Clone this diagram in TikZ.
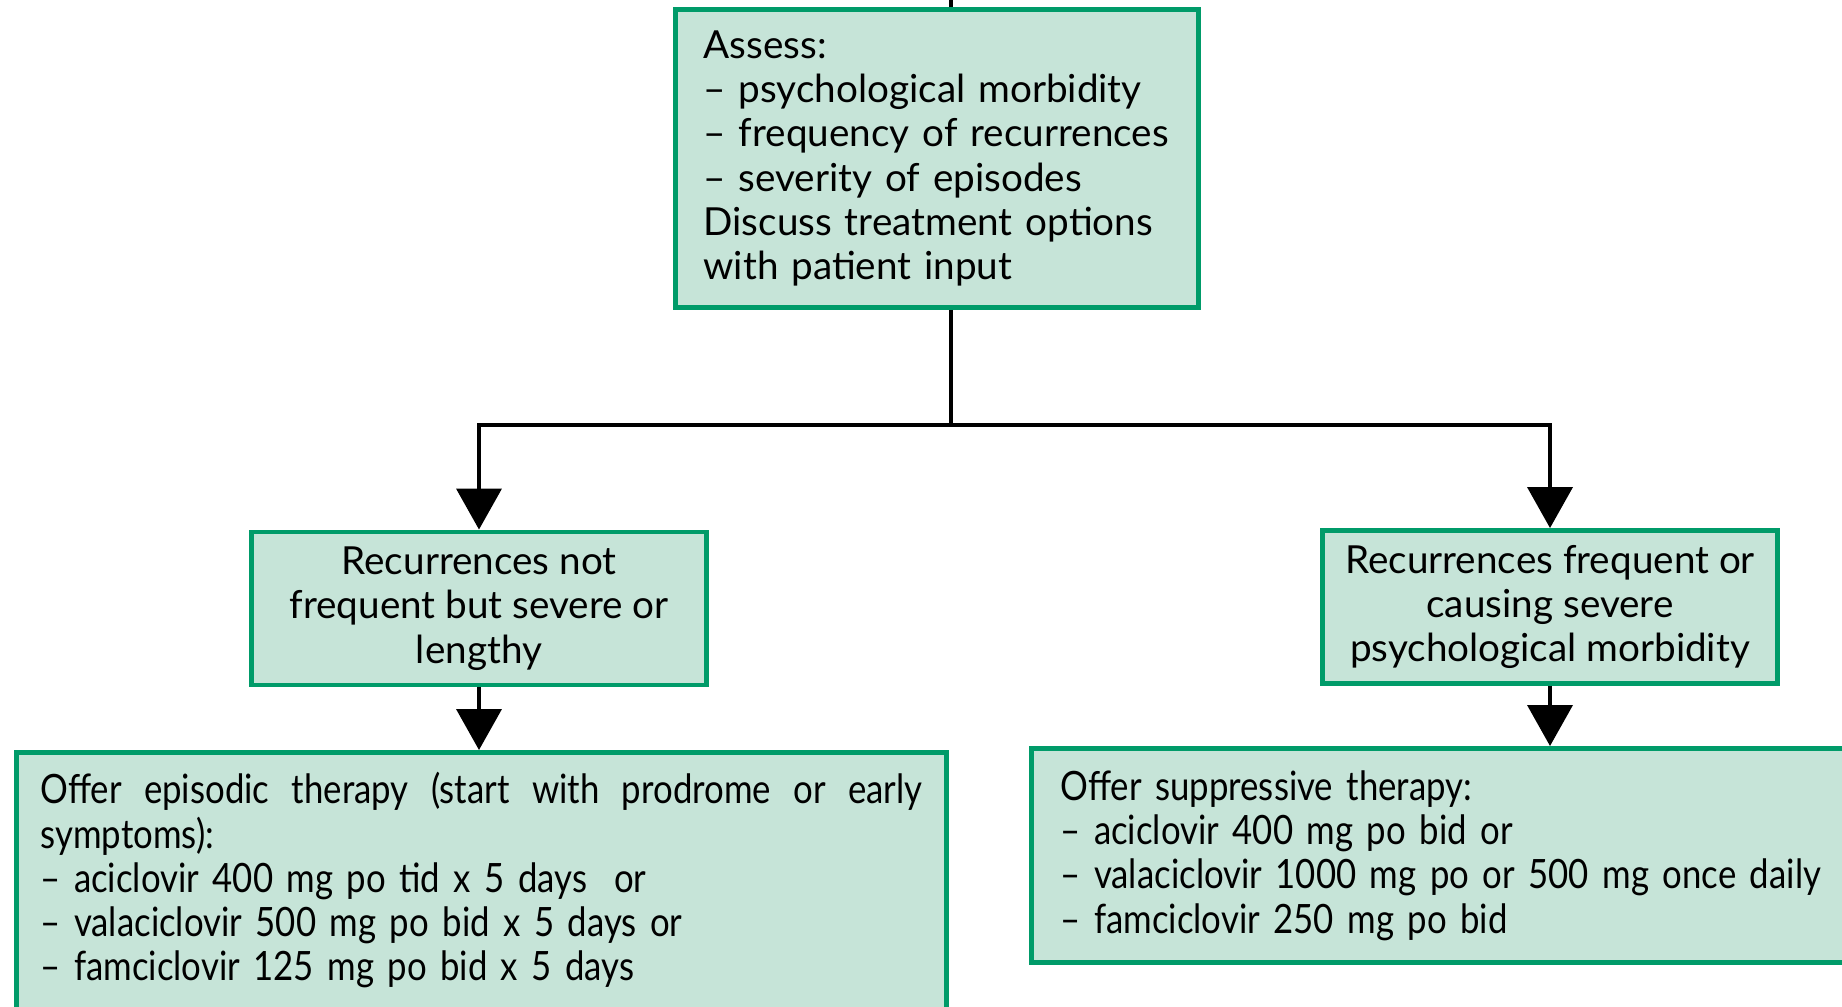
\documentclass[tikz,border=0pt]{standalone}
\usepackage{fontspec}
\setmainfont{Lato}
\newfontfamily\condfont[FakeStretch=0.86, Ligatures=TeX]{Lato}
\usetikzlibrary{arrows.meta, positioning, calc}
\definecolor{boxgreen}{RGB}{0,155,105}
\definecolor{boxfill}{RGB}{198,228,216}

\begin{document}
\begin{tikzpicture}[
    box/.style={draw=boxgreen, fill=boxfill, line width=1.4pt, font=\fontsize{11}{12.6}\selectfont},
    therapy/.style={box, font=\condfont\fontsize{11.5}{12.6}\selectfont, align=left},
    flow/.style={line width=1.1pt, -{Triangle[length=0.41cm, width=0.45cm]}},
    link/.style={line width=1.1pt}
]
    \useasboundingbox (0,0) rectangle (18.42,10.06);
    \clip (0,0) rectangle (18.42,10.06);

    % Assessment box
    \node[box, align=left, text width=4.67cm, inner xsep=0.28cm, minimum height=2.98cm, anchor=north west] (assess) at (6.73,9.99)
        {Assess:\\-- psychological morbidity\\-- frequency of recurrences\\-- severity of episodes\\Discuss treatment options\\with patient input};

    % Decision boxes
    \node[box, align=center, minimum width=4.55cm, minimum height=1.53cm] (rare) at (4.79,3.975)
        {Recurrences not\\frequent but severe or\\lengthy};
    \node[box, align=center, minimum width=4.55cm, minimum height=1.53cm] (often) at (15.50,3.99)
        {Recurrences frequent or\\causing severe\\psychological morbidity};

    % Therapy boxes
    \node[therapy, anchor=north west, text width=8.82cm, inner xsep=0.24cm, inner ysep=0.2cm] (episodic) at (0.14,2.56)
        {\makebox[8.82cm][s]{\spaceskip=0.25em plus 1em\relax Offer episodic therapy (start with prodrome or early}\\symptoms):\\-- aciclovir 400 mg po tid x 5 days\ \ or\\-- valaciclovir 500 mg po bid x 5 days or\\-- famciclovir 125 mg po bid x 5 days\rule[-0.8cm]{0pt}{0.8cm}};
    \node[therapy, anchor=north west, text width=8.3cm, inner xsep=0.29cm, minimum height=2.14cm] (suppress) at (10.29,2.60)
        {Offer suppressive therapy:\\-- aciclovir 400 mg po bid or\\-- valaciclovir 1000 mg po or 500 mg once daily\\-- famciclovir 250 mg po bid};

    % Connectors
    \coordinate (split) at (9.51,5.81);
    \draw[link] (assess.north -| split) -- (split |- 0,10.06);
    \draw[link] (assess.south -| split) -- (split);
    \draw[flow] (split) -| (rare);
    \draw[flow] (split) -| (often);
    \draw[flow] (rare) -- (rare |- episodic.north);
    \draw[flow] (often) -- (often |- suppress.north);

\end{tikzpicture}
\end{document}
